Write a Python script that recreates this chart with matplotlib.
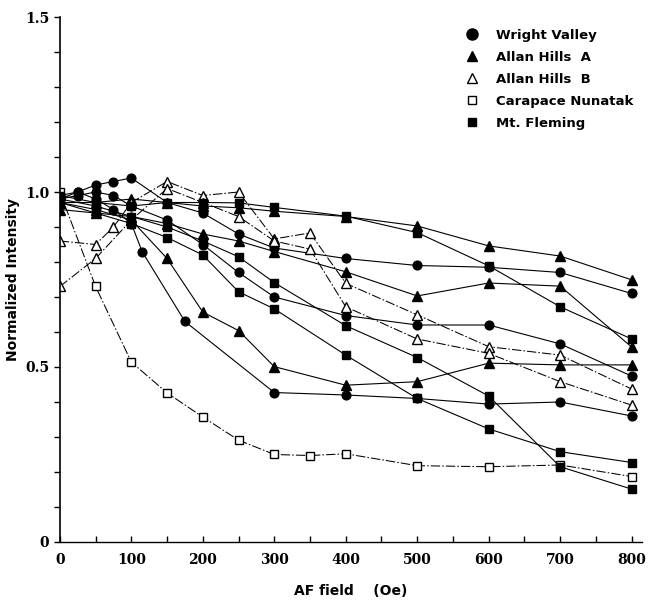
import numpy as np
import matplotlib
matplotlib.use("Agg")
from matplotlib import pyplot as plt
from matplotlib.lines import Line2D

# --- data (AF field in Oe, normalized intensity) ---
wright_1_x = [0, 25, 50, 75, 100, 150, 200, 250, 300, 400, 500, 600, 700, 800]
wright_1_y = [0.98, 1.00, 1.02, 1.03, 1.04, 0.97, 0.94, 0.88, 0.84, 0.81, 0.79, 0.785, 0.77, 0.71]
wright_2_x = [0, 25, 50, 75, 100, 150, 200, 250, 300, 400, 500, 600, 700, 800]
wright_2_y = [0.98, 0.99, 1.00, 0.99, 0.96, 0.92, 0.85, 0.77, 0.70, 0.647, 0.62, 0.62, 0.566, 0.474]
wright_3_x = [0, 25, 50, 75, 100, 115, 175, 300, 400, 500, 600, 700, 800]
wright_3_y = [0.99, 1.00, 0.98, 0.95, 0.91, 0.83, 0.63, 0.427, 0.42, 0.41, 0.394, 0.40, 0.36]

allan_a_1_x = [0, 50, 100, 150, 200, 250, 300, 400, 500, 600, 700, 800]
allan_a_1_y = [0.97, 0.97, 0.98, 0.97, 0.96, 0.955, 0.945, 0.93, 0.903, 0.846, 0.817, 0.749]
allan_a_2_x = [0, 50, 100, 150, 200, 250, 300, 400, 500, 600, 700, 800]
allan_a_2_y = [0.95, 0.94, 0.93, 0.91, 0.88, 0.86, 0.83, 0.772, 0.703, 0.74, 0.731, 0.557]
allan_a_3_x = [0, 50, 100, 150, 200, 250, 300, 400, 500, 600, 700, 800]
allan_a_3_y = [0.97, 0.95, 0.92, 0.81, 0.657, 0.604, 0.501, 0.448, 0.458, 0.511, 0.506, 0.506]

allan_b_1_x = [0, 50, 75, 100, 150, 200, 250, 300, 350, 400, 500, 600, 700, 800]
allan_b_1_y = [0.86, 0.85, 0.90, 0.97, 1.03, 0.99, 1.00, 0.866, 0.883, 0.739, 0.649, 0.558, 0.534, 0.437]
allan_b_2_x = [0, 50, 100, 150, 200, 250, 300, 350, 400, 500, 600, 700, 800]
allan_b_2_y = [0.73, 0.81, 0.92, 1.01, 0.97, 0.93, 0.86, 0.837, 0.672, 0.58, 0.539, 0.458, 0.391]

carapace_x = [0, 50, 100, 150, 200, 250, 300, 350, 400, 500, 600, 700, 800]
carapace_y = [1.00, 0.73, 0.514, 0.426, 0.357, 0.291, 0.25, 0.247, 0.252, 0.218, 0.215, 0.22, 0.187]

fleming_1_x = [0, 50, 100, 150, 200, 250, 300, 400, 500, 600, 700, 800]
fleming_1_y = [0.99, 0.97, 0.96, 0.97, 0.97, 0.969, 0.956, 0.931, 0.884, 0.789, 0.672, 0.58]
fleming_2_x = [0, 50, 100, 150, 200, 250, 300, 400, 500, 600, 700, 800]
fleming_2_y = [0.98, 0.96, 0.93, 0.90, 0.86, 0.815, 0.741, 0.618, 0.527, 0.417, 0.215, 0.151]
fleming_3_x = [0, 50, 100, 150, 200, 250, 300, 400, 500, 600, 700, 800]
fleming_3_y = [0.97, 0.94, 0.91, 0.87, 0.82, 0.715, 0.666, 0.534, 0.41, 0.323, 0.258, 0.227]

legend_labels = ["Wright Valley", "Allan Hills  A", "Allan Hills  B",
                 "Carapace Nunatak", "Mt. Fleming"]
x_ticks = [0, 100, 200, 300, 400, 500, 600, 700, 800]
y_ticks = [0, 0.5, 1.0, 1.5]
y_tick_labels = ["0", "0.5", "1.0", "1.5"]

fig = plt.figure(figsize=(6.65, 6.08), dpi=100)
ax = fig.add_axes([0.090, 0.1086, 0.876, 0.8634])

solid = dict(color="black", lw=0.8, mec="black", mew=1.0)
dashed = dict(color="black", lw=0.75, ls=(0, (9, 2, 1.5, 2)), mec="black", mew=1.0)

# Wright Valley: filled circles
for xs, ys in [(wright_1_x, wright_1_y), (wright_2_x, wright_2_y), (wright_3_x, wright_3_y)]:
    ax.plot(xs, ys, marker="o", ms=6.3, mfc="black", **solid)
# Allan Hills A: filled triangles
for xs, ys in [(allan_a_1_x, allan_a_1_y), (allan_a_2_x, allan_a_2_y), (allan_a_3_x, allan_a_3_y)]:
    ax.plot(xs, ys, marker="^", ms=6.5, mfc="black", **solid)
# Allan Hills B: open triangles
for xs, ys in [(allan_b_1_x, allan_b_1_y), (allan_b_2_x, allan_b_2_y)]:
    ax.plot(xs, ys, marker="^", ms=7, mfc="white", **dashed)
# Carapace Nunatak: open squares
ax.plot(carapace_x, carapace_y, marker="s", ms=6, mfc="white", **dashed)
# Mt. Fleming: filled squares
for xs, ys in [(fleming_1_x, fleming_1_y), (fleming_2_x, fleming_2_y), (fleming_3_x, fleming_3_y)]:
    ax.plot(xs, ys, marker="s", ms=6, mfc="black", **solid)

ax.set_xlim(0, 815)
ax.set_ylim(0, 1.5)
ax.spines["top"].set_visible(False)
ax.spines["right"].set_visible(False)
ax.spines["left"].set_linewidth(1.2)
ax.spines["bottom"].set_linewidth(1.0)

ax.set_xticks(x_ticks)
ax.set_xticks(np.arange(50, 800, 100), minor=True)
ax.set_yticks(y_ticks)
ax.set_yticklabels(y_tick_labels)
ax.set_yticks(np.arange(0.1, 1.5, 0.1), minor=True)
ax.tick_params(axis="y", which="both", direction="out", length=4, width=1.0)
ax.tick_params(axis="x", which="both", direction="in", length=4, width=1.0)
for lab in ax.get_xticklabels() + ax.get_yticklabels():
    lab.set_family("DejaVu Serif")
    lab.set_fontweight("bold")
    lab.set_fontsize(10)
ax.tick_params(axis="x", pad=8)

ax.set_xlabel("AF field    (Oe)", fontsize=10, fontweight="bold", labelpad=12)
ax.set_ylabel("Normalized Intensity", fontsize=10, fontweight="bold", labelpad=4)

handles = [
    Line2D([], [], ls="none", marker="o", ms=8, mfc="black", mec="black"),
    Line2D([], [], ls="none", marker="^", ms=7, mfc="black", mec="black"),
    Line2D([], [], ls="none", marker="^", ms=7, mfc="white", mec="black"),
    Line2D([], [], ls="none", marker="s", ms=6, mfc="white", mec="black"),
    Line2D([], [], ls="none", marker="s", ms=6, mfc="black", mec="black"),
]
leg = ax.legend(handles, legend_labels, loc="upper left",
                bbox_to_anchor=(0.68, 0.972), bbox_transform=fig.transFigure,
                frameon=False, handlelength=1.2, handletextpad=1.2,
                labelspacing=0.68, prop=dict(weight="bold", size=9.5))

fig.savefig("out.png", dpi=100)
